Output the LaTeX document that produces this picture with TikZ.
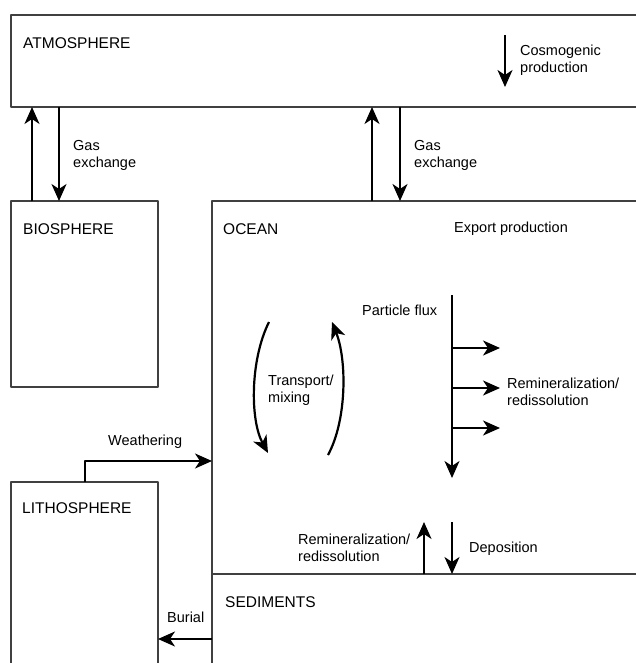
\documentclass[tikz,border=0pt]{standalone}
\usepackage{fontspec}
\setmainfont{Liberation Sans}
\usetikzlibrary{arrows.meta}

\begin{document}
\begin{tikzpicture}[x=1pt, y=-1pt, line join=round,
  box/.style={draw=black!75, line width=1.4pt, rectangle, inner sep=0pt, outer sep=0pt, anchor=north west},
  title/.style={anchor=west, inner sep=0pt, font=\fontsize{15.5}{18}\selectfont},
  lbl/.style={anchor=west, inner sep=0pt, align=left, font=\fontsize{14.5}{17}\selectfont},
  flow/.style={line width=2.2pt, -{Stealth[length=17pt, width=15pt, inset=5pt]}}]
  % --- Page ---
  \clip (0,0) rectangle (636,663);

  % --- Reservoirs ---
  \node[box, minimum width=649pt, minimum height=92pt]  (atm)   at (11,15)  {};
  \node[box, minimum width=147pt, minimum height=186pt] (bio)   at (11,201) {};
  \node[box, minimum width=448pt, minimum height=373pt] (ocean) at (212,201) {};
  \node[box, minimum width=448pt, minimum height=100pt] (sed)   at (212,574) {};
  \node[box, minimum width=147pt, minimum height=200pt] (lith)  at (11,482) {};

  % --- Points on the boxes ---
  \coordinate (gasLup) at ([xshift=21pt]bio.north west);
  \coordinate (gasLdn) at ([xshift=48pt]bio.north west);
  \coordinate (gasRup) at ([xshift=160pt]ocean.north west);
  \coordinate (gasRdn) at ([xshift=188pt]ocean.north west);
  \coordinate (cosmo)  at (505,35);
  \coordinate (pf)     at (452,295);
  \coordinate (pfend)  at (452,478);
  \coordinate (tl1) at (269,322);  % transport, down
  \coordinate (tl2) at (268,453);
  \coordinate (tr1) at (328,455);  % transport, up
  \coordinate (tr2) at (332,322);
  \coordinate (wth)    at ([xshift=74pt]lith.north west);
  \coordinate (wthend) at ([yshift=-260pt]ocean.north west);
  \coordinate (bur)    at ([yshift=-65pt]sed.north west);
  \coordinate (remin)  at ([xshift=212pt]sed.north west);
  \coordinate (depo)   at ([xshift=240pt]sed.north west);

  % --- Gas exchange ---
  \draw[flow] (gasLup) -- (gasLup |- atm.south);
  \draw[flow] (gasLdn |- atm.south) -- (gasLdn);
  \draw[flow] (gasRup) -- (gasRup |- atm.south);
  \draw[flow] (gasRdn |- atm.south) -- (gasRdn);

  % --- Cosmogenic production ---
  \draw[flow] (cosmo) -- ++(0,52);

  % --- Particle flux and remineralization ---
  \draw[flow] (pf) -- (pfend);
  \foreach \d in {53,93,133}
    \draw[flow] ([yshift=-\d pt]pf) -- ++(48,0);

  % --- Transport / mixing ---
  \draw[flow] (tl1) .. controls (250,360) and (250,420) .. (tl2);
  \draw[flow] (tr1) .. controls (347,420) and (347,360) .. (tr2);

  % --- Weathering, burial ---
  \draw[flow] (wth) |- (wthend);
  \draw[flow] (bur) -- (bur -| lith.east);

  % --- Sediment exchange ---
  \draw[flow] (remin) -- ([yshift=52pt]remin);
  \draw[flow] ([yshift=52pt]depo) -- (depo);

  % --- Titles ---
  \node[title] (tatm)   at (23,43)   {ATMOSPHERE};
  \node[title] (tbio)   at (23,229)  {BIOSPHERE};
  \node[title] (tocean) at (223,229) {OCEAN};
  \node[title] (tlith)  at (22,508)  {LITHOSPHERE};
  \node[title] (tsed)   at (225,602) {SEDIMENTS};

  % --- Labels ---
  \node[lbl] (lgasL)  at (73,155)  {Gas\\exchange};
  \node[lbl] (lgasR)  at (414,155) {Gas\\exchange};
  \node[lbl] (lcosmo) at (520,60)  {Cosmogenic\\production};
  \node[lbl] (lexp)   at (454,229) {Export production};
  \node[lbl] (lpf)    at (362,310) {Particle flux};
  \node[lbl] (lremR)  at (507,392) {Remineralization/\\redissolution};
  \node[lbl] (ltrans) at (268,390) {Transport/\\mixing};
  \node[lbl] (lwth)   at (108,442) {Weathering};
  \node[lbl] (lremB)  at (298,548) {Remineralization/\\redissolution};
  \node[lbl] (ldepo)  at (469,549) {Deposition};
  \node[lbl] (lbur)   at (167,617) {Burial};
\end{tikzpicture}
\end{document}
